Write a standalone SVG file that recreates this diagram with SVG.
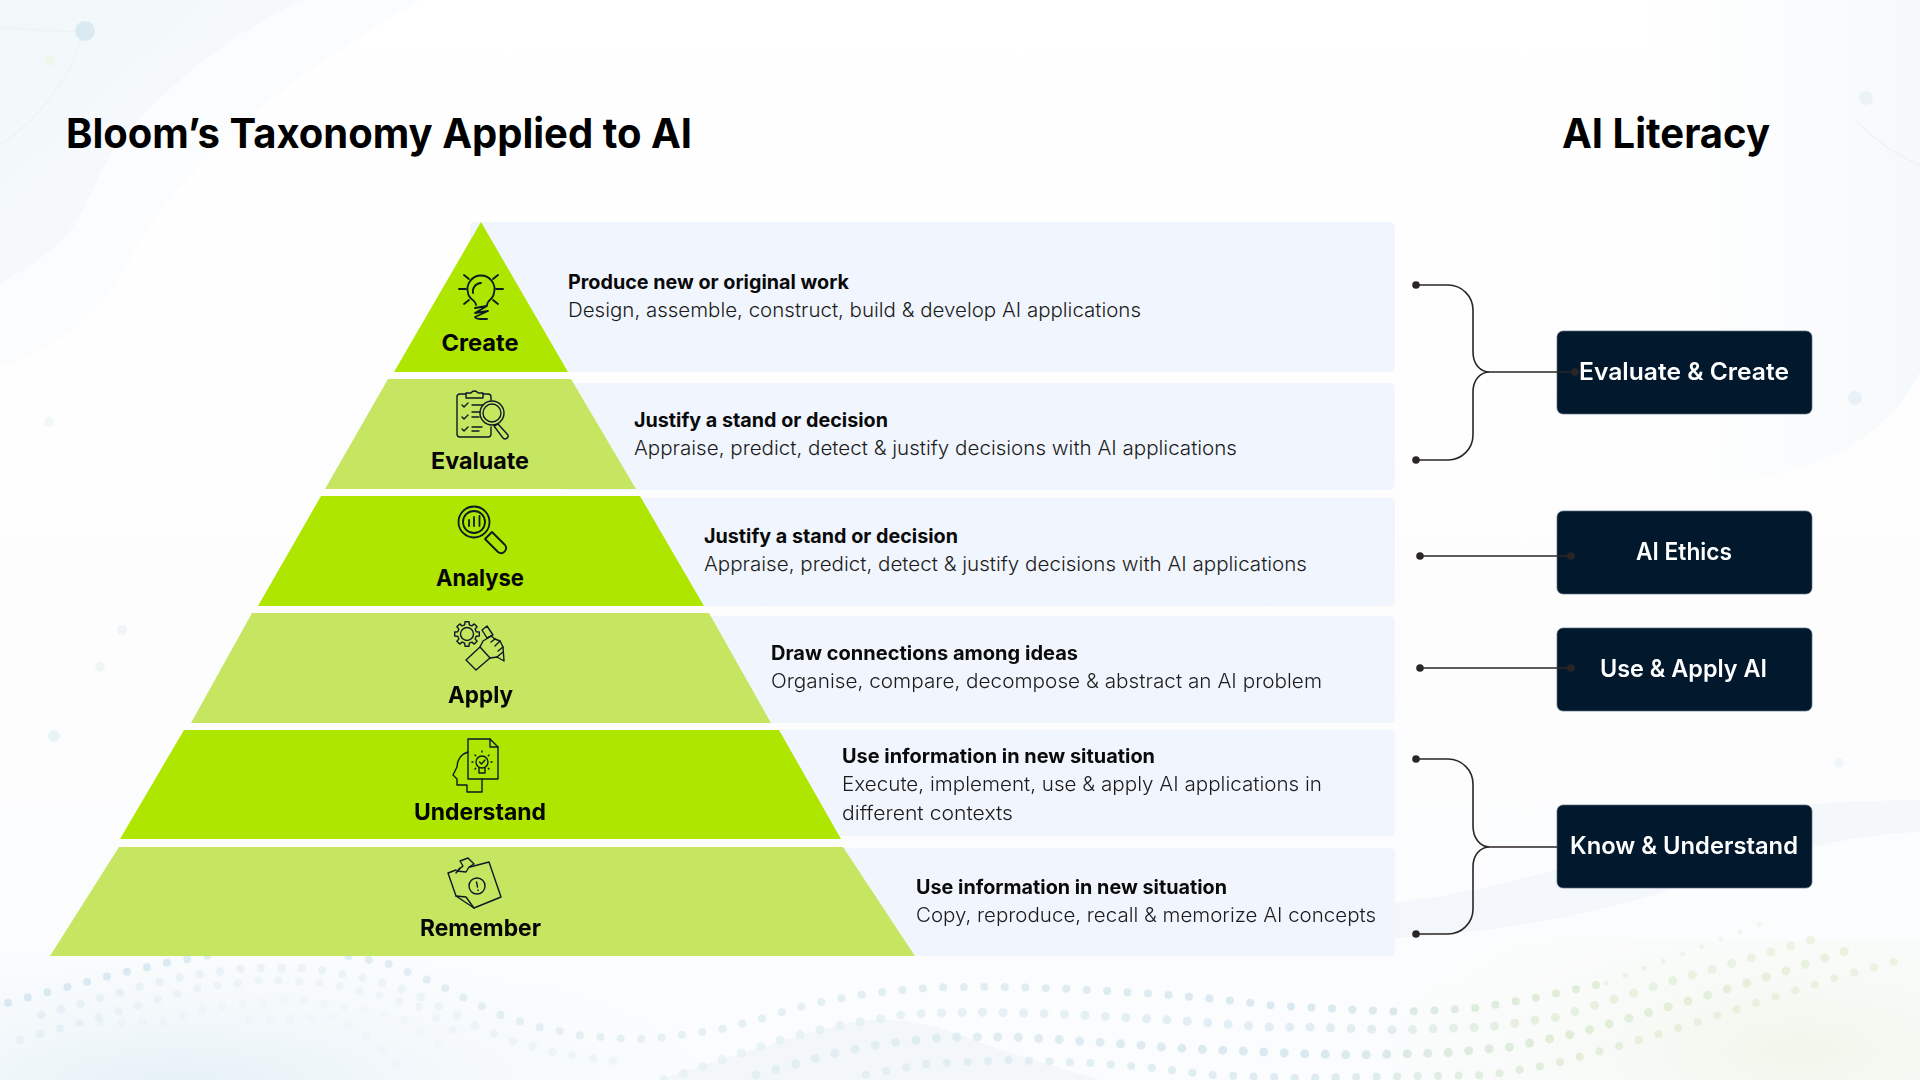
<svg xmlns="http://www.w3.org/2000/svg" width="1920" height="1080" viewBox="0 0 1920 1080">
<style>
text{font-family:"Inter","Lato","Liberation Sans",sans-serif}
.title{font-size:41px;font-weight:700;fill:#000}
.lab{font-size:23px;font-weight:700;fill:#050505}
.h{font-size:19.5px;font-weight:700;fill:#0a0a0a}
.d{font-size:19.5px;font-weight:300;fill:#1c1c1c}
.bt{font-size:24px;font-weight:600;fill:#fff}
.panel{fill:#f1f6fe}
.box{fill:#02182d;stroke:#5c6e82;stroke-width:.7}
.dk{fill:#aee600}.lt{fill:#c6e662}
.ic{fill:none;stroke:#0b1a24;stroke-width:1.8;stroke-linecap:round;stroke-linejoin:round}
.ic2{fill:none;stroke:#0b1a24;stroke-width:1.4;stroke-linecap:round;stroke-linejoin:round}
.cn{fill:none;stroke:#2b2626;stroke-width:1.6}
.dot{fill:#2b2626}
.w{fill:none;stroke:url(#wg);stroke-linecap:round;stroke-linejoin:round;stroke-dasharray:0 20.5}
</style>
<defs>
<linearGradient id="bg" x1="0" y1="0" x2="0" y2="1"><stop offset="0" stop-color="#fff"/><stop offset=".6" stop-color="#fdfdfe"/><stop offset="1" stop-color="#fafcfd"/></linearGradient>
<linearGradient id="wg" gradientUnits="userSpaceOnUse" x1="0" y1="0" x2="1920" y2="0"><stop offset="0" stop-color="#d3e5f0"/><stop offset=".35" stop-color="#e2eff1"/><stop offset=".68" stop-color="#d4e6ee"/><stop offset=".8" stop-color="#dbead2"/><stop offset="1" stop-color="#e8f1dc"/></linearGradient>
<linearGradient id="tl" x1="0" y1="0" x2="1" y2="1"><stop offset="0" stop-color="#f2f7fa"/><stop offset="1" stop-color="#f8fbfc"/></linearGradient>
<linearGradient id="tr" x1="0" y1="0" x2="1" y2="0"><stop offset="0" stop-color="#fff"/><stop offset="1" stop-color="#f6f9fb"/></linearGradient>
<linearGradient id="band" x1="0" y1="0" x2="1" y2="0"><stop offset="0" stop-color="#f3f7fb"/><stop offset="1" stop-color="#f5f8fa"/></linearGradient>
<radialGradient id="bl" gradientUnits="userSpaceOnUse" cx="180" cy="1090" r="560" gradientTransform="translate(0 760) scale(1 .3)"><stop offset="0" stop-color="#e4f0f6"/><stop offset="1" stop-color="#f8fbfd" stop-opacity="0"/></radialGradient>
<radialGradient id="br" gradientUnits="userSpaceOnUse" cx="1800" cy="1050" r="420" gradientTransform="translate(0 630) scale(1 .4)"><stop offset="0" stop-color="#f1f6eb"/><stop offset="1" stop-color="#f8fbf6" stop-opacity="0"/></radialGradient>
</defs>

<g id="background">
<rect width="1920" height="1080" fill="url(#bg)"/>
<path d="M0,0H420C300,70 190,150 130,260C100,320 50,350 0,367Z" fill="#fafcfd"/>
<path d="M0,0H307C250,20 170,80 117,143C95,180 85,210 73,227C50,255 25,270 0,283Z" fill="url(#tl)"/>
<path d="M1640,0H1920V372C1890,440 1800,485 1700,480C1740,420 1720,300 1680,160C1670,100 1650,40 1640,0Z" fill="url(#tr)"/>
<path d="M1394,903C1500,890 1600,860 1688,823C1760,805 1850,800 1920,800V832C1850,835 1790,850 1700,880C1600,915 1500,932 1394,938Z" fill="url(#band)"/>
<rect y="940" width="1920" height="140" fill="url(#bl)"/>
<rect y="940" width="1920" height="140" fill="url(#br)"/>
<path d="M660,1080C720,1060 780,1040 840,1025C900,1010 950,1030 1000,1050L1100,1080Z" fill="#f3f7fa"/>
<path d="M0,28L78,32M82,38C70,75 45,115 0,145M1855,120C1875,140 1895,155 1920,165" fill="none" stroke="#eaf3f5" stroke-width="1.2"/>
<circle cx="85" cy="31" r="10" fill="#dbeaf2"/>
<circle cx="50" cy="61" r="5" fill="#f1f6ea"/>
<circle cx="1866" cy="98" r="7" fill="#ebf3f6"/>
<circle cx="1855" cy="398" r="7" fill="#e8f1f7"/>
<circle cx="1785" cy="406" r="5" fill="#f0f5ef"/>
<circle cx="49" cy="422" r="5" fill="#f2f7f8"/>
<circle cx="122" cy="630" r="5" fill="#eef5f6"/>
<circle cx="100" cy="667" r="5" fill="#f1f6f7"/>
<circle cx="54" cy="736" r="6" fill="#eaf3f5"/>
<circle cx="1839" cy="763" r="5" fill="#f1f6f8"/>
<g id="dots" opacity=".85">
<path class="w" stroke-width="8" d="M8,1003L48,992L79,984L113,975L165,963L200,957L260,945L300,945L351,957L386,963L435,983L468,1000L503,1016L542,1028L584,1036L629,1039L651,1039L718,1030L767,1017L792,1009L816,1003L859,995L902,990L946,987L1009,987L1072,989L1155,994L1216,999L1278,1006L1321,1008L1402,1012L1476,1008L1535,998L1606,983"/>
<path class="w" stroke-width="5" opacity=".6" d="M1606,983L1695,949L1776,918"/>
<path class="w" stroke-width="9" d="M756,1075L795,1064L836,1053L881,1044L946,1037L1011,1037L1050,1039L1111,1043L1175,1048L1264,1052L1309,1054L1353,1055L1443,1053L1511,1047L1578,1033L1626,1019L1702,997L1776,974L1849,950"/>
<path class="w" stroke-width="9" opacity=".8" d="M664,1080L750,1050L797,1035L842,1025L909,1014L975,1012L1062,1014L1171,1020L1264,1027L1307,1027L1398,1030L1488,1027L1558,1017L1602,1003L1672,981L1737,962L1811,940"/>
<path class="w" stroke-width="8" opacity=".9" d="M866,1075L907,1067L926,1064L1009,1060L1089,1063L1146,1067L1211,1075L1273,1077L1292,1078L1490,1075L1553,1064L1619,1046L1685,1026L1753,1004L1835,978L1900,960"/>
<path class="w" stroke-width="8.500" opacity=".55" d="M41,1015L80,1004L140,987L182,977L245,968L309,968L371,979L410,992L445,1009L478,1027L515,1042L555,1053L596,1059L616,1061"/>
<path class="w" stroke-width="8" opacity=".4" d="M20,1040L61,1028L100,1017L158,999L199,988L261,980L324,983L387,997L422,1008L460,1035"/>
<path class="w" stroke-width="8" opacity=".22" d="M41,1033L82,1023L163,1022L208,1008L294,999L357,1009L400,1017L440,1045"/>
<path class="w" stroke-width="8" opacity=".18" d="M249,1020L335,1017L376,1043L408,1072"/>
</g>
</g>

<text class="title" x="66" y="148" textLength="626" lengthAdjust="spacingAndGlyphs">Bloom’s Taxonomy Applied to AI</text>
<text class="title" x="1562" y="148" textLength="208" lengthAdjust="spacingAndGlyphs">AI Literacy</text>

<g id="create">
<rect class="panel" x="470" y="222" width="925" height="150" rx="5"/>
<polygon class="dk" points="481,222 568,372 394,372"/>
<g class="ic"><path d="M476,305C476,300 468,299 468.100,293A13.500,13.500 0 1 1 493.900,293C494,299 487,300 487,305"/><path d="M473,293A8.500,8.500 0 0 1 481,283"/><path d="M459,289H466M496,289H503M464,275L469,279M498,275L493,279M464,304L469,300M498,304L493,300"/><path d="M475,308L487,306L475,313L488,311L475,317Q476,319 481,319H487"/></g>
<text class="lab" x="441.500" y="351" textLength="77" lengthAdjust="spacingAndGlyphs">Create</text>
<text class="h" x="568" y="289" textLength="281" lengthAdjust="spacingAndGlyphs">Produce new or original work</text>
<text class="d" x="568" y="317" textLength="573" lengthAdjust="spacingAndGlyphs">Design, assemble, construct, build &amp; develop AI applications</text>
</g>

<g id="evaluate">
<rect class="panel" x="560" y="383" width="835" height="107" rx="5"/>
<polygon class="lt" points="388,379 571,379 636,489 325,489"/>
<g class="ic2"><path d="M466,394H460A3,3 0 0 0 457,397V434A3,3 0 0 0 460,437H488A3,3 0 0 0 491,434V427M483,394H488A3,3 0 0 1 491,397V400"/><path d="M466,398V393H471A4,4 0 0 1 478,393H483V398Z"/><path d="M462,405L464,407L468,403M462,417L464,419L468,415M462,429L464,431L468,427M472,405H483M472,412H480M472,417H479M472,427H482M472,431H479"/><circle cx="492" cy="413" r="12"/><circle cx="492" cy="413" r="9"/><path d="M498,424L494,426L503,438A3,3 0 0 0 508,435Z"/></g>
<text class="lab" x="431" y="469" textLength="98" lengthAdjust="spacingAndGlyphs">Evaluate</text>
<text class="h" x="634" y="427" textLength="254" lengthAdjust="spacingAndGlyphs">Justify a stand or decision</text>
<text class="d" x="634" y="455" textLength="603" lengthAdjust="spacingAndGlyphs">Appraise, predict, detect &amp; justify decisions with AI applications</text>
</g>

<g id="analyse">
<rect class="panel" x="620" y="498" width="775" height="108" rx="5"/>
<polygon class="dk" points="321,496 640,496 704,606 258,606"/>
<g class="ic"><circle cx="474" cy="522" r="15.500"/><circle cx="474" cy="522" r="11"/><path d="M469,520V526M474,517V526M479.500,516V526"/><path d="M485,539L492,532L505,545A5,5 0 0 1 498,552Z"/></g>
<text class="lab" x="436" y="586" textLength="88" lengthAdjust="spacingAndGlyphs">Analyse</text>
<text class="h" x="704" y="542.500" textLength="254" lengthAdjust="spacingAndGlyphs">Justify a stand or decision</text>
<text class="d" x="704" y="570.500" textLength="603" lengthAdjust="spacingAndGlyphs">Appraise, predict, detect &amp; justify decisions with AI applications</text>
</g>

<g id="apply">
<rect class="panel" x="690" y="616" width="705" height="107" rx="5"/>
<polygon class="lt" points="252,613 709,613 771,723 191,723"/>
<g class="ic2"><g transform="translate(467 634)"><circle r="6.500"/><path d="M9.200,-2.300L12.300,-2L12.300,2L9.200,2.300L8.100,4.900L10.100,7.300L7.300,10.100L4.900,8.100L2.300,9.200L2,12.300L-2,12.300L-2.300,9.200L-4.900,8.100L-7.300,10.100L-10.100,7.300L-8.100,4.900L-9.200,2.300L-12.300,2L-12.300,-2L-9.200,-2.300L-8.100,-4.900L-10.100,-7.300L-7.300,-10.100L-4.900,-8.100L-2.300,-9.200L-2,-12.300L2,-12.300L2.300,-9.200L4.900,-8.100L7.300,-10.100L10.100,-7.300L8.100,-4.900Z"/></g>
<path d="M466,660L480,647L490,658L476,670Z"/><path d="M482,630L487,626L493,635L487,638Z"/><path d="M480,647L483,641L488,638L491,636L495,639L500,641L503,647L504,661L497,657L490,658"/><path d="M491,642L495,639M495,646L500,641M498,651L503,647M497,657L503,652"/></g>
<text class="lab" x="448" y="703" textLength="65" lengthAdjust="spacingAndGlyphs">Apply</text>
<text class="h" x="771" y="660" textLength="307" lengthAdjust="spacingAndGlyphs">Draw connections among ideas</text>
<text class="d" x="771" y="688" textLength="551" lengthAdjust="spacingAndGlyphs">Organise, compare, decompose &amp; abstract an AI problem</text>
</g>

<g id="understand">
<rect class="panel" x="760" y="730" width="635" height="106" rx="5"/>
<polygon class="dk" points="184,730 779,730 841,839 120,839"/>
<g class="ic2"><path d="M468,739H490L498,747V779H468Z"/><path d="M490,739V747H498"/><path d="M468,752C461,754 457,760 457,767L453,775L457,779V785H467V792H482V779"/><circle cx="482" cy="762" r="6"/><path d="M479,768V773H485V768M479.500,762L481.500,764L485,760"/><path d="M482,751V752M472,762H473M491,762H492M475,755L476,756M489,755L488,756M475,769L476,768M489,769L488,768" stroke-dasharray="1 1"/></g>
<text class="lab" x="414" y="820" textLength="132" lengthAdjust="spacingAndGlyphs">Understand</text>
<text class="h" x="842" y="763" textLength="313" lengthAdjust="spacingAndGlyphs">Use information in new situation</text>
<text class="d" x="842" y="791" textLength="480" lengthAdjust="spacingAndGlyphs">Execute, implement, use &amp; apply AI applications in</text>
<text class="d" x="842" y="820" textLength="171" lengthAdjust="spacingAndGlyphs">different contexts</text>
</g>

<g id="remember">
<rect class="panel" x="830" y="848" width="565" height="108" rx="5"/>
<polygon class="lt" points="119,847 843,847 915,956 50,956"/>
<g class="ic2"><path d="M470,867L489,862L501,897L474,908L456,896L448,873L456,870"/><path d="M456,896L466,897L474,908"/><circle cx="477" cy="886" r="8"/><path d="M476.500,882L477.500,887M478,890V890.500"/><path d="M457,871L463,866L460,861L468,858L474,864L469,867L466,872Z"/><path d="M460,868L456,873"/></g>
<text class="lab" x="420" y="936" textLength="121" lengthAdjust="spacingAndGlyphs">Remember</text>
<text class="h" x="916" y="894" textLength="311" lengthAdjust="spacingAndGlyphs">Use information in new situation</text>
<text class="d" x="916" y="922" textLength="460" lengthAdjust="spacingAndGlyphs">Copy, reproduce, recall &amp; memorize AI concepts</text>
</g>

<g id="evaluate-create"><rect class="box" x="1557" y="331" width="255" height="83" rx="6"/><text class="bt" x="1579" y="380" textLength="210" lengthAdjust="spacingAndGlyphs">Evaluate &amp; Create</text></g>
<g id="ai-ethics"><rect class="box" x="1557" y="511" width="255" height="83" rx="6"/><text class="bt" x="1636" y="560" textLength="96" lengthAdjust="spacingAndGlyphs">AI Ethics</text></g>
<g id="use-apply"><rect class="box" x="1557" y="628" width="255" height="83" rx="6"/><text class="bt" x="1600" y="677" textLength="167" lengthAdjust="spacingAndGlyphs">Use &amp; Apply AI</text></g>
<g id="know-understand"><rect class="box" x="1557" y="805" width="255" height="83" rx="6"/><text class="bt" x="1570" y="854" textLength="228" lengthAdjust="spacingAndGlyphs">Know &amp; Understand</text></g>

<g id="connectors">
<path class="cn" d="M1416,285H1448A25,25 0 0 1 1473,310V352C1473,364 1480,372 1490,372C1480,372 1473,380 1473,392V435A25,25 0 0 1 1448,460H1416M1488,372H1575"/>
<circle class="dot" cx="1416" cy="285" r="3.800"/><circle class="dot" cx="1416" cy="460" r="3.800"/><circle class="dot" cx="1575" cy="372" r="3.800"/>
<path class="cn" d="M1420,556H1571"/><circle class="dot" cx="1420" cy="556" r="3.800"/><circle class="dot" cx="1571" cy="556" r="3.800"/>
<path class="cn" d="M1420,668H1571"/><circle class="dot" cx="1420" cy="668" r="3.800"/><circle class="dot" cx="1571" cy="668" r="3.800"/>
<path class="cn" d="M1416,759H1448A25,25 0 0 1 1473,784V826C1473,838 1480,847 1490,847C1480,847 1473,855 1473,867V909A25,25 0 0 1 1448,934H1416M1488,847H1557"/>
<circle class="dot" cx="1416" cy="759" r="3.800"/><circle class="dot" cx="1416" cy="934" r="3.800"/>
</g>
</svg>
